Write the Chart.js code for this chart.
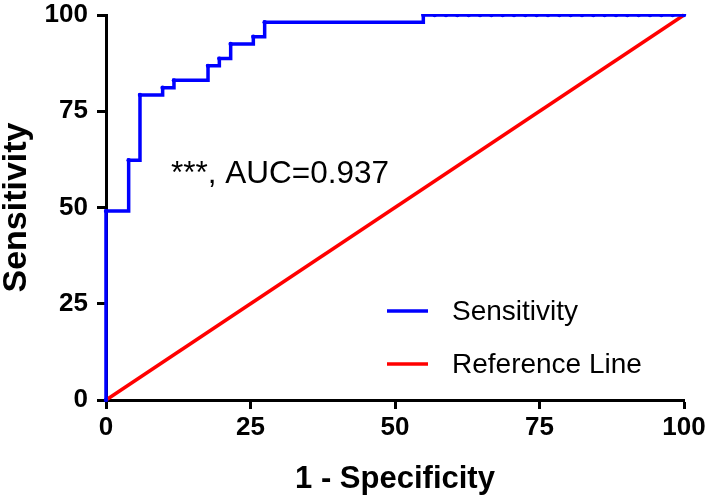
<!DOCTYPE html>
<html>
<head>
<meta charset="utf-8">
<script src="https://cdn.jsdelivr.net/npm/chart.js@4/dist/chart.umd.min.js"></script>
<style>
  body { margin: 0; background: #fff; }
</style>
</head>
<body>
<canvas id="roc" width="709" height="498"></canvas>
<script>
// ROC points (1 - specificity, sensitivity), in %
const oneMinusSpec = [0, 0, 3.92, 5.88, 9.80, 11.76, 17.65, 19.61, 21.57, 25.49, 27.45,
  54.90, 56.86, 58.82, 60.78, 62.75, 64.71, 66.67, 68.63, 70.59, 72.55, 74.51, 76.47,
  78.43, 80.39, 82.35, 84.31, 86.27, 88.24, 90.20, 92.16, 94.12, 96.08, 98.04, 100];
const sensitivity = [0, 49.06, 62.26, 79.25, 81.13, 83.02, 86.79, 88.68, 92.45, 94.34, 98.11,
  100, 100, 100, 100, 100, 100, 100, 100, 100, 100, 100, 100,
  100, 100, 100, 100, 100, 100, 100, 100, 100, 100, 100, 100];

// diagonal reference line
const refX = [0, 100];
const refY = [0, 100];

const axisTicks = [0, 25, 50, 75, 100];
const aucLabel = "***, AUC=0.937";

const FONT = "'Liberation Sans', Arial, Helvetica, sans-serif";

// Legend and AUC text drawn on top
const overlayPlugin = {
  id: "overlay",
  afterDraw(chart) {
    const ctx = chart.ctx;
    ctx.save();
    ctx.fillStyle = "#000";
    ctx.font = "31.5px " + FONT;
    ctx.textAlign = "left";
    ctx.textBaseline = "alphabetic";
    ctx.fillText(aucLabel, 171, 183);

    ctx.font = "28px " + FONT;
    const items = chart.data.datasets;
    const rows = [311, 364];
    items.forEach((ds, i) => {
      const y = rows[i];
      ctx.strokeStyle = ds.borderColor;
      ctx.lineWidth = 3.5;
      ctx.beginPath();
      ctx.moveTo(387, y);
      ctx.lineTo(428, y);
      ctx.stroke();
      ctx.fillStyle = "#000";
      ctx.textBaseline = "middle";
      ctx.fillText(ds.label, 452, y + 1);
    });
    ctx.restore();
  },
};

const tickFont = { family: FONT, size: 26, weight: "bold" };

new Chart(document.getElementById("roc").getContext("2d"), {
  type: "line",
  data: {
    datasets: [
      {
        label: "Sensitivity",
        data: oneMinusSpec.map((x, i) => ({ x: x, y: sensitivity[i] })),
        borderColor: "#0000ff",
        backgroundColor: "#0000ff",
        borderWidth: 3.5,
        stepped: "before",
        pointRadius: 2.2,
        pointBorderWidth: 0,
        pointBackgroundColor: "#0000ff",
        clip: { left: 4, top: 1, right: 4, bottom: 4 },
      },
      {
        label: "Reference Line",
        data: refX.map((x, i) => ({ x: x, y: refY[i] })),
        borderColor: "#ff0000",
        backgroundColor: "#ff0000",
        borderWidth: 3.5,
        pointRadius: 0,
        clip: { left: 4, top: 4, right: 4, bottom: 4 },
      },
    ],
  },
  options: {
    responsive: false,
    animation: false,
    layout: { padding: { top: 15, right: 25, left: 0, bottom: 0 } },
    plugins: {
      legend: { display: false },
      tooltip: { enabled: false },
    },
    scales: {
      x: {
        type: "linear",
        min: 0,
        max: 100,
        afterBuildTicks: (scale) => { scale.ticks = axisTicks.map((v) => ({ value: v })); },
        afterFit: (scale) => { scale.height = 98; scale.paddingLeft = 0; scale.paddingRight = 0; },
        border: { display: true, color: "#000", width: 3 },
        grid: { drawOnChartArea: false, drawTicks: true, tickLength: 9, tickWidth: 3, tickColor: "#000" },
        ticks: { color: "#000", font: tickFont, padding: 3, maxRotation: 0 },
        title: { display: true, text: "1 - Specificity", color: "#000",
          font: { family: FONT, size: 31, weight: "bold" }, padding: { top: 0, bottom: 0 } },
      },
      y: {
        type: "linear",
        min: 0,
        max: 100,
        afterBuildTicks: (scale) => { scale.ticks = axisTicks.map((v) => ({ value: v })); },
        afterFit: (scale) => { scale.width = 106; scale.paddingTop = 0; scale.paddingBottom = 0; },
        border: { display: true, color: "#000", width: 3 },
        grid: { drawOnChartArea: false, drawTicks: true, tickLength: 9, tickWidth: 3, tickColor: "#000" },
        ticks: { color: "#000", font: tickFont, padding: 9 },
        title: { display: true, text: "Sensitivity", color: "#000",
          font: { family: FONT, size: 34, weight: "bold", lineHeight: 1 }, padding: { top: 0, bottom: 0 } },
      },
    },
  },
  plugins: [overlayPlugin],
});
</script>
</body>
</html>
